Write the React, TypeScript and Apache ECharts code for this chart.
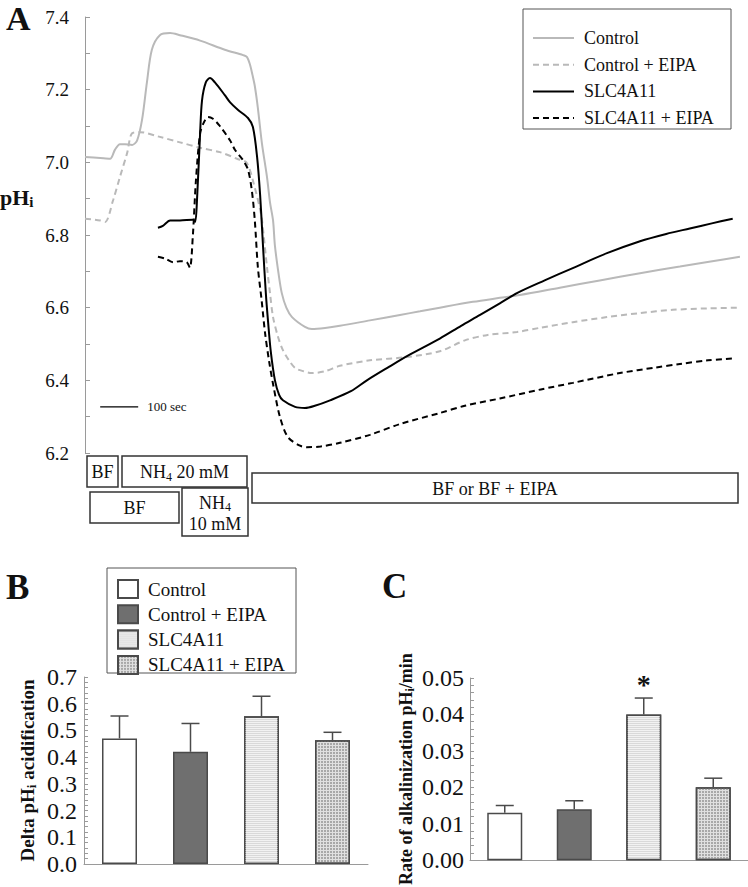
import React, { useEffect, useRef } from "react";
import * as echarts from "echarts";

const FONT = "'Liberation Serif', 'Times New Roman', Times, serif";
const TXT = "#111111";
const AXIS = "#9a9a9a";
const GRAY = "#b9b9b9";

// ---------- Panel A : pHi traces (time in seconds) ----------
const ctrlTime = [0, 40, 66, 79, 92, 105, 124, 137, 150, 163, 176, 197, 224, 250, 303, 368, 416, 426, 434, 441, 447, 455, 466, 479, 487, 495, 500, 510, 518, 530, 545, 579, 597, 632, 671, 750, 829, 882, 934, 1021, 1092, 1145, 1250, 1355, 1461, 1566, 1647, 1724];
const ctrlPH = [7.015, 7.012, 7.01, 7.035, 7.05, 7.05, 7.048, 7.06, 7.116, 7.22, 7.31, 7.35, 7.356, 7.35, 7.335, 7.31, 7.295, 7.29, 7.27, 7.24, 7.21, 7.15, 7.05, 6.96, 6.89, 6.84, 6.77, 6.69, 6.64, 6.6, 6.574, 6.547, 6.541, 6.544, 6.55, 6.565, 6.58, 6.59, 6.6, 6.616, 6.627, 6.635, 6.655, 6.675, 6.695, 6.713, 6.727, 6.74];

const ctrlEipaTime = [0, 40, 53, 74, 92, 111, 124, 145, 197, 250, 303, 355, 400, 426, 447, 461, 466, 479, 487, 495, 508, 521, 537, 553, 575, 597, 632, 671, 750, 847, 934, 1000, 1060, 1137, 1200, 1284, 1374, 1460, 1547, 1640, 1724];
const ctrlEipaPH = [6.845, 6.84, 6.836, 6.896, 6.96, 7.026, 7.08, 7.083, 7.07, 7.055, 7.04, 7.028, 7.01, 6.998, 6.93, 6.87, 6.84, 6.712, 6.64, 6.574, 6.52, 6.483, 6.455, 6.434, 6.425, 6.42, 6.425, 6.44, 6.455, 6.464, 6.48, 6.51, 6.525, 6.533, 6.545, 6.56, 6.574, 6.585, 6.594, 6.598, 6.6];

const slcTime = [192, 205, 224, 250, 284, 290, 295, 303, 308, 318, 329, 342, 368, 382, 403, 429, 442, 453, 461, 468, 476, 482, 489, 500, 511, 521, 553, 579, 605, 645, 700, 742, 800, 850, 934, 990, 1040, 1092, 1137, 1210, 1284, 1374, 1461, 1530, 1592, 1650, 1705];
const slcPH = [6.82, 6.825, 6.84, 6.84, 6.842, 6.836, 6.9, 7.08, 7.17, 7.22, 7.232, 7.22, 7.185, 7.165, 7.144, 7.122, 7.097, 7.015, 6.91, 6.78, 6.64, 6.56, 6.48, 6.4, 6.36, 6.345, 6.327, 6.324, 6.33, 6.345, 6.37, 6.4, 6.437, 6.468, 6.515, 6.55, 6.58, 6.612, 6.64, 6.675, 6.709, 6.75, 6.783, 6.803, 6.818, 6.832, 6.845];

const slcEipaTime = [192, 211, 232, 250, 268, 276, 284, 292, 303, 313, 324, 337, 355, 382, 395, 416, 429, 439, 447, 455, 465, 474, 485, 495, 513, 534, 566, 584, 620, 671, 750, 830, 934, 1000, 1092, 1200, 1284, 1408, 1500, 1566, 1640, 1705];
const slcEipaPH = [6.74, 6.735, 6.725, 6.728, 6.725, 6.71, 6.8, 6.95, 7.08, 7.11, 7.125, 7.12, 7.1, 7.06, 7.034, 7.006, 6.98, 6.924, 6.84, 6.712, 6.62, 6.53, 6.45, 6.39, 6.3, 6.244, 6.22, 6.216, 6.218, 6.228, 6.25, 6.28, 6.31, 6.33, 6.35, 6.375, 6.393, 6.42, 6.435, 6.445, 6.455, 6.46];

const scaleBarTime = [40, 140];
const scaleBarPH = [6.327, 6.327];

// ---------- Panels B and C ----------
const groups = ["Control", "Control + EIPA", "SLC4A11", "SLC4A11 + EIPA"];
const deltaMean = [0.47, 0.42, 0.553, 0.463];
const deltaErr = [0.084, 0.106, 0.075, 0.03];
const rateMean = [0.013, 0.014, 0.04, 0.02];
const rateErr = [0.002, 0.0023, 0.0045, 0.0025];
const rateSig = ["", "", "*", ""];

const pairs = (t: number[], v: number[]) => t.map((x, i) => [x, v[i]]);

const barStyles: any[] = [
  { color: "#ffffff", borderColor: "#4a4a4a", borderWidth: 1.5 },
  { color: "#6f6f6f", borderColor: "#4a4a4a", borderWidth: 1.5 },
  {
    color: "#d9d9d9",
    borderColor: "#4a4a4a",
    borderWidth: 1.5,
    decal: { symbol: "rect", symbolSize: 1, dashArrayX: [1, 0], dashArrayY: [1, 1], color: "#f2f2f2", rotation: 0 },
  },
  {
    color: "#e0e0e0",
    borderColor: "#4a4a4a",
    borderWidth: 1.5,
    decal: { symbol: "rect", symbolSize: 1, dashArrayX: [2, 1], dashArrayY: [2, 1], color: "#a8a8a8", rotation: 0 },
  },
];

const subRich = (size: number, bold: boolean) => ({
  m: { fontSize: size, fontWeight: bold ? "bold" : "normal", fontFamily: FONT, color: TXT, fill: TXT, lineHeight: size + 3 },
  s: { fontSize: Math.round(size * 0.68), fontWeight: bold ? "bold" : "normal", fontFamily: FONT, color: TXT, fill: TXT, lineHeight: 8, verticalAlign: "bottom" },
});

const textEl = (x: number, y: number, text: string, size: number, bold = false, align = "center", vAlign = "middle") => ({
  type: "text",
  x,
  y,
  style: {
    text,
    align,
    textAlign: align,
    verticalAlign: vAlign,
    textVerticalAlign: vAlign,
    fontSize: size,
    fontWeight: bold ? "bold" : "normal",
    fontFamily: FONT,
    fill: TXT,
    rich: subRich(size, bold),
  },
});

const boxEl = (x: number, y: number, w: number, h: number) => ({
  type: "rect",
  shape: { x, y, width: w, height: h },
  style: { fill: "none", stroke: "#333333", lineWidth: 1.5 },
});

function optionA(): any {
  const lineSeries = (name: string, t: number[], v: number[], color: string, dashed: boolean) => ({
    type: "line",
    name,
    data: pairs(t, v),
    showSymbol: false,
    symbol: "none",
    smooth: 0.3,
    lineStyle: { color, width: 2, type: dashed ? [6, 4] : "solid" },
    itemStyle: { color },
    z: dashed ? 3 : 4,
  });
  return {
    animation: false,
    backgroundColor: "#ffffff",
    grid: { left: 85, top: 17, width: 661, height: 436 },
    xAxis: { type: "value", min: 0, max: 1740, show: false },
    yAxis: {
      type: "value",
      min: 6.2,
      max: 7.4,
      interval: 0.2,
      axisLine: { show: true, lineStyle: { color: AXIS, width: 1 } },
      axisTick: { show: true, inside: true, length: 5, lineStyle: { color: AXIS } },
      minorTick: { show: true, splitNumber: 2, length: 5, lineStyle: { color: AXIS } },
      splitLine: { show: false },
      axisLabel: { fontSize: 19, fontFamily: FONT, color: TXT, margin: 16, formatter: (v: number) => v.toFixed(1) },
    },
    legend: {
      data: groups,
      orient: "vertical",
      left: 532,
      top: 28,
      padding: 0,
      itemWidth: 41,
      itemHeight: 14,
      itemGap: 6.7,
      itemStyle: { opacity: 0 },
      textStyle: { fontFamily: FONT, fontSize: 18, color: TXT, lineHeight: 20, padding: [0, 0, 0, 5] },
    },
    series: [
      lineSeries(groups[0], ctrlTime, ctrlPH, GRAY, false),
      lineSeries(groups[1], ctrlEipaTime, ctrlEipaPH, GRAY, true),
      lineSeries(groups[2], slcTime, slcPH, "#000000", false),
      lineSeries(groups[3], slcEipaTime, slcEipaPH, "#000000", true),
      {
        type: "line",
        name: "scale",
        data: pairs(scaleBarTime, scaleBarPH),
        showSymbol: false,
        symbol: "none",
        lineStyle: { color: "#000000", width: 1.3 },
        endLabel: { show: true, formatter: "100 sec", fontFamily: FONT, fontSize: 13, color: TXT, distance: 9 },
        silent: true,
      },
    ],
    graphic: [
      { type: "rect", shape: { x: 523, y: 9, width: 208, height: 120 }, style: { fill: "none", stroke: "#555555", lineWidth: 1 } },
      textEl(6, 18, "A", 34, true, "left", "middle"),
      textEl(0, 197, "{m|pH}{s|i}", 22, true, "left", "middle"),
      boxEl(87, 456, 31, 31),
      textEl(102.5, 472, "{m|BF}", 18),
      boxEl(122, 456, 125, 31),
      textEl(184.5, 472, "{m|NH}{s|4}{m| 20 mM}", 18),
      boxEl(90, 492, 89, 31),
      textEl(134.5, 508, "{m|BF}", 18),
      boxEl(182, 488, 66, 48),
      textEl(215, 513, "{m|NH}{s|4}\n{m|10 mM}", 18),
      boxEl(252, 473, 486, 30),
      textEl(495, 489, "{m|BF or BF + EIPA}", 18),
    ],
  };
}

function optionBC(): any {
  const yAxisCommon = {
    type: "value",
    axisLine: { show: true, lineStyle: { color: AXIS } },
    axisTick: { show: true, inside: true, length: 4, lineStyle: { color: AXIS } },
    minorTick: { show: true, splitNumber: 5, length: 4, lineStyle: { color: AXIS } },
    splitLine: { show: false },
    nameLocation: "middle",
    nameRotate: 90,
  };
  const xAxisCommon = {
    type: "category",
    data: groups,
    axisLine: { show: true, lineStyle: { color: AXIS } },
    axisTick: { show: false },
    axisLabel: { show: false },
  };
  const bars = (means: number[], axis: number) =>
    groups.map((g, gi) => ({
      type: "bar",
      name: g,
      xAxisIndex: axis,
      yAxisIndex: axis,
      barWidth: 35,
      barGap: "-100%",
      data: means.map((v, i) => (i === gi ? v : "-")),
      itemStyle: barStyles[gi],
      z: 2,
    }));
  const errors = (means: number[], errs: number[], sig: string[], axis: number) => ({
    type: "custom",
    xAxisIndex: axis,
    yAxisIndex: axis,
    silent: true,
    z: 5,
    data: means.map((m, i) => [i, m, m + errs[i]]),
    encode: { x: 0, y: [1, 2] },
    renderItem: (params: any, api: any) => {
      const i = api.value(0);
      const base = api.coord([i, api.value(1)]);
      const top = api.coord([i, api.value(2)]);
      const st = { stroke: "#4a4a4a", lineWidth: 1.5 };
      const children: any[] = [
        { type: "line", shape: { x1: base[0], y1: base[1], x2: top[0], y2: top[1] }, style: st },
        { type: "line", shape: { x1: top[0] - 9, y1: top[1], x2: top[0] + 9, y2: top[1] }, style: st },
      ];
      const s = sig[params.dataIndex];
      if (s) {
        children.push({
          type: "text",
          x: top[0],
          y: top[1] - 14,
          style: { text: s, align: "center", verticalAlign: "middle", fontSize: 28, fontWeight: "bold", fontFamily: FONT, fill: TXT },
        });
      }
      return { type: "group", children };
    },
  });
  const nameRich = (size: number) => ({
    m: { fontSize: size, fontWeight: "bold", fontFamily: FONT, color: TXT, lineHeight: size + 3 },
    s: { fontSize: Math.round(size * 0.68), fontWeight: "bold", fontFamily: FONT, color: TXT, lineHeight: 8, verticalAlign: "bottom" },
  });
  return {
    animation: false,
    backgroundColor: "#ffffff",
    grid: [
      { left: 84, top: 117, width: 284, height: 187 },
      { left: 470, top: 118, width: 278, height: 184 },
    ],
    xAxis: [
      { ...xAxisCommon, gridIndex: 0 },
      { ...xAxisCommon, gridIndex: 1 },
    ],
    yAxis: [
      {
        ...yAxisCommon,
        gridIndex: 0,
        min: 0,
        max: 0.7,
        interval: 0.1,
        axisLabel: { fontSize: 24, fontFamily: FONT, color: TXT, margin: 7, formatter: (v: number) => v.toFixed(1) },
        name: "{m|Delta pH}{s|i}{m| acidification}",
        nameGap: 46,
        nameTextStyle: { rich: nameRich(19) },
      },
      {
        ...yAxisCommon,
        gridIndex: 1,
        min: 0,
        max: 0.05,
        interval: 0.01,
        axisLabel: { fontSize: 24, fontFamily: FONT, color: TXT, margin: 6, formatter: (v: number) => v.toFixed(2) },
        name: "{m|Rate of alkalinization pH}{s|i}{m|/min}",
        nameGap: 54,
        nameTextStyle: { rich: nameRich(18) },
      },
    ],
    legend: {
      data: groups,
      orient: "vertical",
      left: 117,
      top: 19,
      padding: 0,
      icon: "rect",
      itemWidth: 20,
      itemHeight: 18,
      itemGap: 5.3,
      textStyle: { fontFamily: FONT, fontSize: 19, color: TXT, lineHeight: 20, padding: [0, 0, 0, 5] },
    },
    series: [
      ...bars(deltaMean, 0),
      errors(deltaMean, deltaErr, ["", "", "", ""], 0),
      ...bars(rateMean, 1),
      errors(rateMean, rateErr, rateSig, 1),
    ],
    graphic: [
      { type: "rect", shape: { x: 107, y: 8, width: 189, height: 105 }, style: { fill: "none", stroke: "#555555", lineWidth: 1 } },
      textEl(6, 27, "B", 35, true, "left", "middle"),
      textEl(382, 26, "C", 35, true, "left", "middle"),
    ],
  };
}

function Chart({ option, top, height }: { option: any; top: number; height: number }) {
  const ref = useRef<HTMLDivElement>(null);
  useEffect(() => {
    if (!ref.current) return;
    const chart = echarts.init(ref.current, undefined, { renderer: "svg" });
    chart.setOption(option);
    return () => chart.dispose();
  }, [option]);
  return <div ref={ref} style={{ position: "absolute", left: 0, top, width: 748, height }} />;
}

const OPT_A = optionA();
const OPT_BC = optionBC();

export default function App() {
  return (
    <div style={{ position: "absolute", left: 0, top: 0, width: 748, height: 887, background: "#ffffff", overflow: "hidden" }}>
      <Chart option={OPT_A} top={0} height={560} />
      <Chart option={OPT_BC} top={560} height={327} />
    </div>
  );
}
